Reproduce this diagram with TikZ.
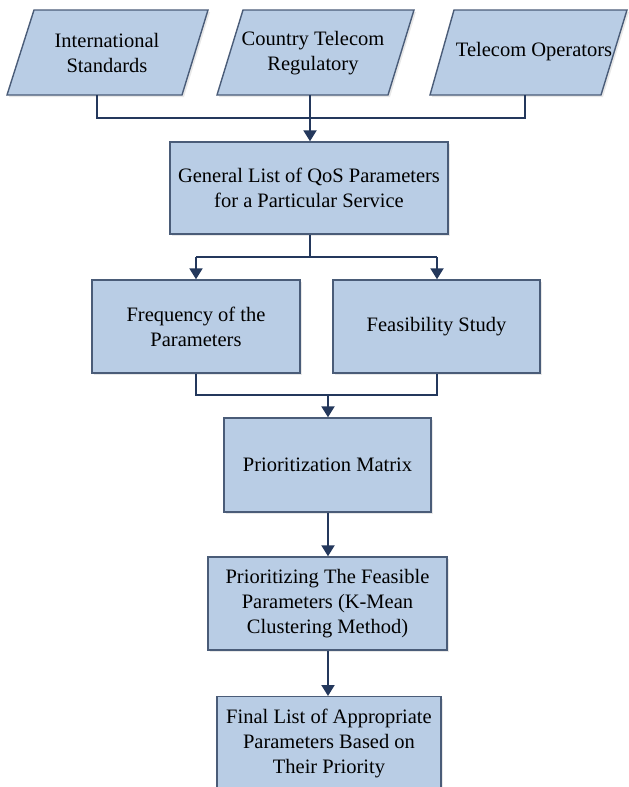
\documentclass[tikz,border=0pt]{standalone}
\usepackage{fontspec}
\setmainfont{Liberation Serif}
\usetikzlibrary{arrows.meta,shadows}
\definecolor{boxfill}{HTML}{B9CDE5}
\definecolor{boxline}{HTML}{4A5C78}
\definecolor{conn}{HTML}{24385C}
\tikzset{
  stepbox/.style={draw=boxline, line width=1.4pt, fill=boxfill, rectangle,
    align=center, inner sep=0pt, font=\fontsize{20.5}{25}\selectfont,
    drop shadow={opacity=0.18, shadow xshift=2pt, shadow yshift=-2pt}},
  paratext/.style={align=center, inner sep=0pt, font=\fontsize{20.5}{25}\selectfont},
  parashape/.style={draw=boxline, line width=1.4pt, fill=boxfill,
    drop shadow={opacity=0.18, shadow xshift=2pt, shadow yshift=-2pt}},
  link/.style={draw=conn, line width=2pt},
  arr/.style={link, -{Triangle[width=13pt,length=11pt]}}
}
\begin{document}
\begin{tikzpicture}[x=1pt,y=-1pt]
\useasboundingbox (0,0) rectangle (629,787);
\fill[white] (0,0) rectangle (629,787);
% parallelograms
\path[parashape] (34,10) -- (208,10) -- (182,95) -- (7,95) -- cycle;
\path[parashape] (243,10) -- (414,10) -- (388,95) -- (217,95) -- cycle;
\path[parashape] (454,10) -- (627,10) -- (601,95) -- (430,95) -- cycle;
\node[paratext] (p1) at (107,53) {International\\Standards};
\node[paratext] (p2) at (313,53) {Country Telecom\\Regulatory};
\node[paratext] (p3) at (534,52) {Telecom Operators};
\coordinate (p1b) at (97,95);
\coordinate (p2b) at (310,95);
\coordinate (p3b) at (525,95);
% boxes
\node[stepbox, minimum width=278pt, minimum height=92pt] (b1) at (309,188)
  {General List of QoS Parameters\\for a Particular Service};
\node[stepbox, minimum width=208pt, minimum height=93pt] (b2) at (196,326.5)
  {Frequency of the\\Parameters};
\node[stepbox, minimum width=207pt, minimum height=93pt] (b3) at (436.5,326.5)
  {Feasibility Study};
\node[stepbox, minimum width=207pt, minimum height=94pt] (b4) at (327.5,465)
  {Prioritization Matrix};
\node[stepbox, minimum width=239pt, minimum height=93pt] (b5) at (327.5,603.5)
  {Prioritizing The Feasible\\Parameters (K-Mean\\Clustering Method)};
\begin{scope}
\clip (0,0) rectangle (629,787);
\node[stepbox, minimum width=224pt, minimum height=110pt, anchor=north] (b6) at (329,696) {};
\end{scope}
\node[paratext] (b6t) at (329,743)
  {Final List of Appropriate\\Parameters Based on\\Their Priority};
% connectors
\draw[link] (p1b) |- (p3b |- 0,118) -- (p3b);
\draw[arr] (p2b) -- (b1.north -| p2b);
\draw[link] (b1.south -| 310,0) -- (310,257);
\draw[arr] (196,257) -- (b2.north);
\draw[arr] (437,257) -- (b3.north -| 437,0);
\draw[link] (196,257) -- (437,257);
\draw[link] (b2.south) |- (437,395) -- (b3.south -| 437,0);
\draw[arr] (328,395) -- (b4.north -| 328,0);
\draw[arr] (b4.south -| 328,0) -- (b5.north -| 328,0);
\draw[arr] (b5.south -| 328,0) -- (b6.north -| 328,0);
\end{tikzpicture}
\end{document}
